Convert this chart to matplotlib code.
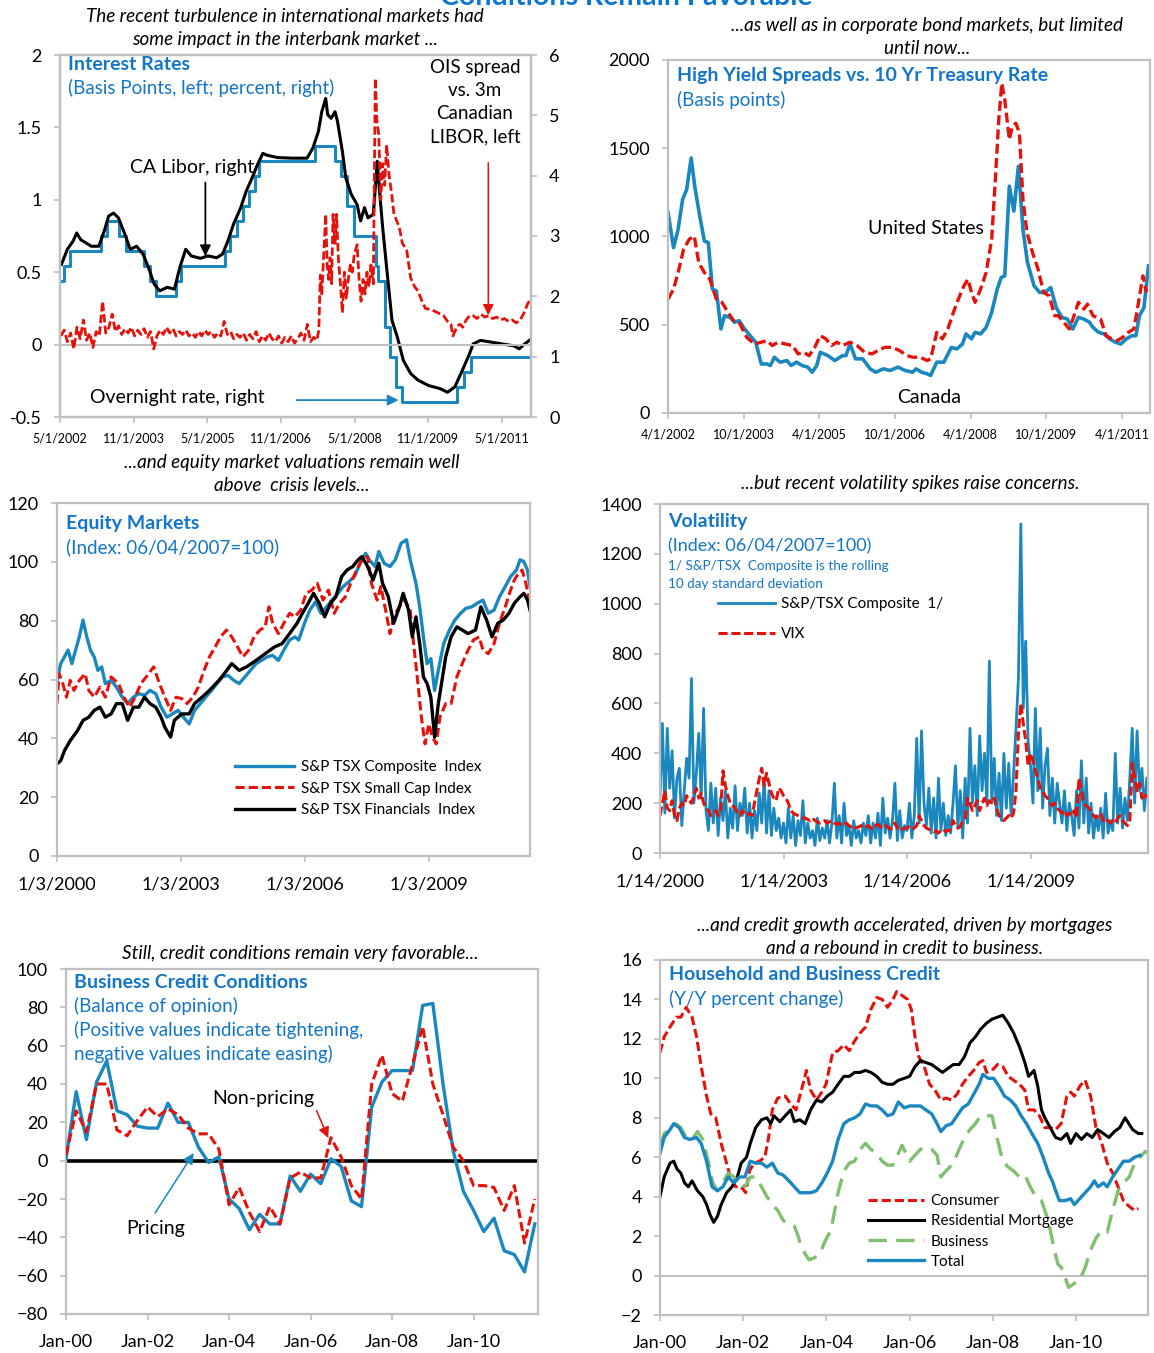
import numpy as np
import pandas as pd
import matplotlib
matplotlib.use("Agg")
from matplotlib import pyplot as plt

plt.rcParams['font.family'] = ['Lato', 'DejaVu Sans']

BLUE = '#1A87BE'
TXTBLUE = '#1275C8'
RED = '#E3120B'
GREEN = '#7FBF6F'
GRAY = '#BFBFBF'

# ---------------- data ----------------
# interest rates (decimal years)
overnight_year = [2002.33, 2002.42, 2002.54, 2003.17, 2003.29, 2003.54, 2003.67, 2004.05, 2004.17, 2004.28,
                  2004.69, 2004.80, 2005.68, 2005.80, 2005.93, 2006.06, 2006.18, 2006.31, 2006.39, 2007.52,
                  2007.92, 2008.06, 2008.17, 2008.31, 2008.77, 2008.80, 2008.94, 2009.05, 2009.17, 2009.30,
                  2010.42, 2010.55, 2010.69, 2011.92]
overnight_pct = [2.25, 2.50, 2.75, 3.00, 3.25, 3.00, 2.75, 2.50, 2.25, 2.00,
                 2.25, 2.50, 2.75, 3.00, 3.25, 3.50, 3.75, 4.00, 4.25, 4.50,
                 4.25, 4.00, 3.50, 3.00, 2.50, 2.25, 1.50, 1.00, 0.50, 0.25,
                 0.50, 0.75, 1.00, 1.00]

libor_year = [2002.36, 2002.48, 2002.60, 2002.67, 2002.75, 2002.97, 2003.12, 2003.23, 2003.32, 2003.42,
              2003.52, 2003.65, 2003.76, 2003.89, 2004.02, 2004.13, 2004.25, 2004.36, 2004.51, 2004.66,
              2004.77, 2004.89, 2005.00, 2005.19, 2005.34, 2005.52, 2005.64, 2005.75, 2005.86, 2006.01,
              2006.12, 2006.24, 2006.35, 2006.46, 2006.54, 2006.76, 2007.06, 2007.36, 2007.48, 2007.59,
              2007.66, 2007.74, 2007.78, 2007.85, 2007.93, 2007.98, 2008.08, 2008.15, 2008.26, 2008.38,
              2008.45, 2008.53, 2008.60, 2008.71, 2008.79, 2008.83, 2008.90, 2008.98, 2009.09, 2009.20,
              2009.32, 2009.47, 2009.62, 2009.84, 2010.07, 2010.22, 2010.37, 2010.52, 2010.67, 2010.74,
              2010.89, 2011.12, 2011.34, 2011.57, 2011.68, 2011.79, 2011.92]
libor_pct = [2.53, 2.78, 2.92, 3.05, 2.94, 2.83, 2.83, 3.08, 3.33, 3.38,
             3.30, 3.03, 2.78, 2.83, 2.70, 2.48, 2.20, 2.09, 2.15, 2.12,
             2.48, 2.78, 2.67, 2.63, 2.67, 2.64, 2.70, 2.92, 3.19, 3.47,
             3.74, 3.96, 4.18, 4.37, 4.34, 4.30, 4.29, 4.29, 4.46, 4.73,
             5.06, 5.28, 5.01, 4.95, 5.06, 4.90, 4.40, 3.96, 3.69, 3.52,
             3.25, 3.47, 3.30, 3.36, 4.24, 3.80, 3.14, 2.48, 1.60, 1.32,
             0.94, 0.72, 0.61, 0.52, 0.47, 0.41, 0.50, 0.77, 1.05, 1.21,
             1.27, 1.24, 1.21, 1.18, 1.13, 1.21, 1.29]

# OIS spread, calm period May-2002 to Jul-2007 (evenly spaced readings)
ois_calm = [0.06, 0.10, 0.02, 0.08, -0.03, 0.12, 0.04, 0.17, 0.03, 0.08,
            -0.02, 0.09, 0.06, 0.30, 0.08, 0.12, 0.21, 0.09, 0.13, 0.07,
            0.11, 0.08, 0.12, 0.06, 0.10, 0.07, 0.11, 0.05, 0.09, -0.03,
            0.06, 0.10, 0.07, 0.12, 0.08, 0.11, 0.06, 0.09, 0.07, 0.10,
            0.06, 0.08, 0.05, 0.09, 0.06, 0.10, 0.07, 0.09, 0.05, 0.08,
            0.06, 0.16, 0.07, 0.09, 0.04, 0.07, 0.05, 0.08, 0.03, 0.07,
            0.04, 0.09, 0.02, 0.06, 0.03, 0.08, 0.04, 0.02, 0.06, 0.01,
            0.05, 0.02, 0.06, 0.01, 0.04, 0.08, 0.03, 0.14, 0.02, 0.05, 0.03]
ois_stress_year = [2007.60, 2007.63, 2007.66, 2007.70, 2007.74, 2007.77, 2007.80, 2007.83, 2007.86, 2007.89,
                   2007.93, 2007.96, 2008.00, 2008.04, 2008.08, 2008.12, 2008.16, 2008.20, 2008.24, 2008.28,
                   2008.32, 2008.38, 2008.42, 2008.46, 2008.50, 2008.54, 2008.58, 2008.62, 2008.66, 2008.71,
                   2008.75, 2008.78, 2008.82, 2008.86, 2008.90, 2008.94, 2008.98, 2009.03, 2009.08, 2009.13,
                   2009.19, 2009.24, 2009.30, 2009.39, 2009.47, 2009.55, 2009.62, 2009.70, 2009.77, 2009.90,
                   2010.02, 2010.14, 2010.22, 2010.29, 2010.33, 2010.37, 2010.42, 2010.48, 2010.53, 2010.60,
                   2010.67, 2010.74, 2010.82, 2010.90, 2010.98, 2011.06, 2011.14, 2011.22, 2011.30, 2011.38,
                   2011.46, 2011.54, 2011.62, 2011.70, 2011.78, 2011.85, 2011.92]
ois_stress = [0.10, 0.48, 0.35, 0.62, 0.90, 0.55, 0.45, 0.60, 0.42, 0.90,
              0.70, 0.90, 0.58, 0.42, 0.22, 0.50, 0.32, 0.45, 0.55, 0.50,
              0.62, 0.69, 0.45, 0.30, 0.45, 0.35, 0.50, 0.40, 0.55, 0.42,
              1.84, 1.55, 1.45, 1.00, 1.25, 1.10, 1.38, 1.17, 1.05, 0.90,
              0.85, 0.81, 0.70, 0.65, 0.46, 0.40, 0.37, 0.30, 0.25, 0.24,
              0.22, 0.20, 0.16, 0.14, 0.06, 0.09, 0.13, 0.14, 0.12, 0.17,
              0.20, 0.20, 0.18, 0.21, 0.19, 0.20, 0.18, 0.19, 0.17, 0.18,
              0.16, 0.17, 0.15, 0.17, 0.22, 0.28, 0.32]

# high yield spreads
can_hy_year = [2002.25, 2002.36, 2002.45, 2002.54, 2002.62, 2002.71, 2002.78, 2002.88, 2002.97, 2003.05,
               2003.13, 2003.21, 2003.30, 2003.37, 2003.48, 2003.57, 2003.66, 2003.77, 2003.88, 2003.99,
               2004.10, 2004.21, 2004.28, 2004.36, 2004.47, 2004.61, 2004.69, 2004.80, 2004.91, 2005.02,
               2005.11, 2005.20, 2005.27, 2005.42, 2005.56, 2005.71, 2005.78, 2005.86, 2005.97, 2006.11,
               2006.26, 2006.37, 2006.52, 2006.66, 2006.81, 2006.95, 2007.10, 2007.17, 2007.28, 2007.39,
               2007.46, 2007.58, 2007.72, 2007.87, 2007.98, 2008.09, 2008.16, 2008.27, 2008.34, 2008.45,
               2008.56, 2008.67, 2008.78, 2008.86, 2008.93, 2009.02, 2009.11, 2009.20, 2009.29, 2009.38,
               2009.51, 2009.62, 2009.73, 2009.84, 2009.95, 2010.06, 2010.17, 2010.28, 2010.39, 2010.50,
               2010.61, 2010.68, 2010.79, 2010.90, 2011.01, 2011.12, 2011.23, 2011.34, 2011.45, 2011.53,
               2011.60, 2011.69, 2011.78]
can_hy = [1136, 937, 1040, 1210, 1266, 1445, 1285, 1116, 975, 965,
          702, 692, 476, 551, 542, 514, 523, 476, 438, 401,
          278, 278, 269, 316, 288, 297, 269, 288, 269, 260,
          231, 269, 344, 325, 297, 325, 325, 391, 307, 307,
          250, 231, 250, 241, 260, 241, 231, 250, 231, 222,
          213, 288, 288, 372, 363, 391, 448, 420, 457, 448,
          485, 570, 702, 768, 777, 1285, 1144, 1398, 1040, 852,
          721, 683, 683, 711, 598, 542, 532, 476, 542, 532,
          514, 485, 457, 448, 420, 401, 391, 420, 438, 438,
          551, 598, 834]
us_hy_year = [2002.25, 2002.36, 2002.45, 2002.56, 2002.67, 2002.77, 2002.86, 2002.97, 2003.08, 2003.21,
              2003.32, 2003.44, 2003.55, 2003.66, 2003.81, 2003.96, 2004.10, 2004.21, 2004.32, 2004.43,
              2004.58, 2004.72, 2004.83, 2004.94, 2005.05, 2005.16, 2005.27, 2005.38, 2005.49, 2005.60,
              2005.71, 2005.86, 2006.00, 2006.15, 2006.30, 2006.41, 2006.55, 2006.70, 2006.84, 2006.99,
              2007.10, 2007.25, 2007.39, 2007.46, 2007.58, 2007.69, 2007.80, 2007.91, 2008.01, 2008.12,
              2008.20, 2008.27, 2008.34, 2008.45, 2008.56, 2008.67, 2008.75, 2008.81, 2008.87, 2008.93,
              2009.02, 2009.08, 2009.15, 2009.22, 2009.29, 2009.37, 2009.48, 2009.59, 2009.70, 2009.81,
              2009.92, 2009.99, 2010.10, 2010.21, 2010.28, 2010.39, 2010.50, 2010.57, 2010.68, 2010.83,
              2010.94, 2011.05, 2011.16, 2011.27, 2011.38, 2011.49, 2011.56, 2011.67, 2011.74]
us_hy = [645, 702, 796, 928, 984, 1003, 852, 796, 758, 645,
         627, 570, 523, 514, 429, 391, 401, 410, 382, 401,
         391, 382, 335, 344, 325, 372, 438, 420, 382, 401,
         382, 401, 382, 344, 335, 354, 372, 372, 354, 325,
         316, 316, 297, 307, 457, 420, 476, 570, 645, 721,
         758, 683, 627, 702, 796, 984, 1360, 1661, 1868, 1774,
         1549, 1624, 1642, 1586, 1210, 1022, 909, 815, 683, 664,
         551, 551, 514, 476, 532, 627, 589, 617, 551, 532,
         438, 420, 410, 429, 457, 476, 589, 777, 683]

# equity indices (06/04/2007 = 100)
tsx_year = [2000.00, 2000.09, 2000.18, 2000.27, 2000.36, 2000.45, 2000.54, 2000.63, 2000.72, 2000.81,
            2000.90, 2000.99, 2001.08, 2001.17, 2001.31, 2001.44, 2001.58, 2001.71, 2001.85, 2001.98,
            2002.12, 2002.25, 2002.39, 2002.52, 2002.66, 2002.79, 2002.93, 2003.06, 2003.20, 2003.33,
            2003.47, 2003.60, 2003.74, 2003.87, 2004.01, 2004.14, 2004.28, 2004.41, 2004.55, 2004.68,
            2004.82, 2004.95, 2005.09, 2005.22, 2005.36, 2005.49, 2005.63, 2005.76, 2005.85, 2005.99,
            2006.12, 2006.26, 2006.39, 2006.53, 2006.66, 2006.80, 2006.93, 2007.07, 2007.20, 2007.34,
            2007.47, 2007.56, 2007.70, 2007.79, 2007.92, 2008.06, 2008.19, 2008.33, 2008.46, 2008.55,
            2008.69, 2008.78, 2008.87, 2008.96, 2009.05, 2009.14, 2009.23, 2009.36, 2009.50, 2009.63,
            2009.77, 2009.90, 2010.04, 2010.17, 2010.31, 2010.44, 2010.58, 2010.71, 2010.85, 2010.98,
            2011.12, 2011.21, 2011.30, 2011.39, 2011.45]
tsx_comp = [59.7, 65.4, 67.7, 70.0, 65.4, 70.0, 74.5, 80.2, 74.5, 70.0,
            67.7, 63.1, 64.3, 58.6, 59.7, 57.4, 54.0, 51.8, 54.0, 55.2,
            54.6, 56.3, 55.2, 50.6, 47.2, 48.3, 49.5, 47.2, 44.9, 49.5,
            51.8, 54.0, 56.3, 58.6, 60.9, 61.4, 59.7, 58.6, 60.9, 63.1,
            65.4, 66.5, 67.7, 68.2, 66.5, 70.0, 73.4, 74.5, 73.4, 79.1,
            83.6, 86.4, 82.5, 84.7, 87.0, 89.3, 91.6, 93.3, 95.0, 99.5,
            102.9, 100.7, 98.4, 103.5, 99.5, 98.4, 100.7, 106.3, 107.5, 100.7,
            92.7, 84.7, 74.5, 65.4, 67.1, 56.3, 63.1, 72.2, 76.8, 80.2,
            82.5, 84.2, 84.7, 85.9, 87.0, 82.5, 83.6, 88.1, 91.6, 95.0,
            97.2, 100.7, 100.1, 97.2, 91.6]
small_year = [2000.00, 2000.05, 2000.14, 2000.23, 2000.32, 2000.41, 2000.54, 2000.68, 2000.77, 2000.90,
              2001.04, 2001.17, 2001.31, 2001.49, 2001.62, 2001.76, 2001.89, 2002.03, 2002.16, 2002.34,
              2002.48, 2002.61, 2002.75, 2002.88, 2003.02, 2003.15, 2003.29, 2003.42, 2003.56, 2003.69,
              2003.83, 2003.96, 2004.10, 2004.23, 2004.37, 2004.50, 2004.64, 2004.77, 2004.91, 2005.04,
              2005.13, 2005.22, 2005.36, 2005.49, 2005.63, 2005.76, 2005.90, 2006.03, 2006.17, 2006.30,
              2006.44, 2006.57, 2006.71, 2006.84, 2006.98, 2007.11, 2007.25, 2007.38, 2007.52, 2007.61,
              2007.75, 2007.84, 2007.97, 2008.06, 2008.15, 2008.28, 2008.42, 2008.55, 2008.64, 2008.73,
              2008.82, 2008.91, 2009.00, 2009.09, 2009.18, 2009.27, 2009.41, 2009.54, 2009.68, 2009.81,
              2009.95, 2010.08, 2010.22, 2010.31, 2010.44, 2010.58, 2010.71, 2010.85, 2010.98, 2011.07,
              2011.17, 2011.26, 2011.35, 2011.45]
small_cap = [51.8, 62.0, 58.6, 54.0, 59.7, 56.3, 59.7, 62.0, 56.3, 54.0,
             57.4, 54.0, 60.9, 58.6, 54.0, 50.6, 54.0, 58.6, 60.9, 64.3,
             58.6, 54.0, 49.5, 54.0, 53.5, 51.8, 54.0, 57.4, 63.1, 67.7,
             71.1, 74.5, 76.8, 74.5, 71.1, 67.7, 70.0, 74.5, 76.8, 77.9,
             84.7, 79.1, 75.6, 79.1, 82.5, 81.3, 83.6, 89.3, 90.4, 92.7,
             87.0, 90.4, 82.5, 85.9, 88.1, 92.7, 97.2, 100.7, 101.8, 92.7,
             87.0, 91.6, 82.5, 75.6, 81.3, 84.7, 87.0, 83.6, 71.1, 59.7,
             47.2, 38.1, 44.9, 40.4, 38.1, 47.2, 51.8, 51.8, 60.9, 65.4,
             70.0, 73.4, 74.5, 70.0, 68.8, 72.2, 79.1, 84.7, 90.4, 93.8,
             96.1, 97.2, 92.7, 85.9]
fin_year = [2000.00, 2000.09, 2000.18, 2000.32, 2000.50, 2000.63, 2000.77, 2000.90, 2001.04, 2001.17,
            2001.31, 2001.44, 2001.58, 2001.71, 2001.85, 2001.98, 2002.12, 2002.25, 2002.39, 2002.52,
            2002.61, 2002.75, 2002.84, 2003.02, 2003.20, 2003.33, 2003.51, 2003.69, 2003.92, 2004.05,
            2004.23, 2004.41, 2004.59, 2004.82, 2005.04, 2005.27, 2005.45, 2005.63, 2005.81, 2005.94,
            2006.08, 2006.21, 2006.35, 2006.48, 2006.62, 2006.75, 2006.89, 2007.02, 2007.16, 2007.29,
            2007.38, 2007.52, 2007.65, 2007.79, 2007.88, 2008.02, 2008.15, 2008.29, 2008.38, 2008.51,
            2008.60, 2008.69, 2008.78, 2008.87, 2008.96, 2009.05, 2009.14, 2009.23, 2009.32, 2009.41,
            2009.54, 2009.68, 2009.81, 2009.95, 2010.13, 2010.26, 2010.40, 2010.53, 2010.67, 2010.80,
            2010.94, 2011.07, 2011.21, 2011.30, 2011.39, 2011.45]
financials = [31.3, 32.4, 35.8, 39.2, 42.7, 46.1, 47.2, 49.5, 50.6, 47.2,
              48.3, 51.8, 51.8, 46.1, 50.6, 50.6, 54.0, 51.8, 50.6, 47.2,
              43.8, 40.4, 46.1, 48.3, 48.3, 51.8, 54.0, 56.3, 59.7, 62.0,
              65.4, 63.1, 64.3, 66.5, 68.8, 71.1, 72.2, 75.6, 79.1, 82.5,
              85.9, 89.3, 85.9, 81.3, 85.9, 88.1, 95.0, 97.2, 98.4, 100.7,
              101.8, 98.4, 93.8, 99.5, 92.7, 88.1, 79.1, 84.7, 89.3, 83.6,
              74.5, 81.3, 72.2, 60.9, 58.6, 54.0, 40.4, 51.8, 59.7, 67.7,
              74.5, 77.9, 76.8, 75.6, 76.8, 84.7, 80.2, 74.5, 79.1, 80.2,
              82.5, 85.9, 88.1, 89.3, 87.0, 83.6]

# volatility, readings every three weeks, Jan-2000 to late 2011
tsx_vol = [230, 520, 160, 500, 260, 410, 140, 300, 340, 110, 250, 380, 300, 700, 200, 320, 480,   # 2000
           220, 580, 170, 90, 280, 120, 260, 70, 220, 130, 250, 60, 180, 100, 270, 90, 200,      # 2001
           150, 260, 80, 200, 60, 170, 90, 240, 120, 300, 80, 250, 70, 180, 90, 140, 60,         # 2002
           120, 40, 180, 60, 150, 30, 130, 70, 210, 40, 120, 60, 90, 30, 140, 50, 100,           # 2003
           60, 130, 40, 120, 280, 60, 150, 40, 200, 70, 110, 30, 130, 60, 90, 40, 120,          # 2004
           70, 150, 40, 120, 60, 160, 30, 220, 80, 140, 60, 130, 280, 50, 170, 60, 110,         # 2005
           90, 200, 60, 150, 460, 120, 490, 200, 110, 260, 80, 220, 60, 300, 90, 200, 70,       # 2006
           150, 80, 200, 350, 100, 250, 60, 300, 120, 500, 200, 350, 150, 470, 250, 400, 200,   # 2007
           770, 200, 380, 150, 320, 130, 400, 180, 360, 150, 320, 500, 700, 1320, 580, 850, 450,  # 2008
           350, 200, 580, 250, 500, 180, 350, 420, 150, 300, 120, 280, 200, 120, 250, 90, 200,  # 2009
           150, 70, 250, 100, 370, 120, 300, 80, 200, 60, 150, 90, 180, 60, 240, 80, 130,       # 2010
           90, 400, 120, 260, 100, 220, 130, 300, 500, 200, 490, 250, 340, 170, 300]            # 2011
vix = [150, 200, 250, 180, 170, 210, 150, 130, 180, 200, 190, 230, 210, 200, 230, 260, 220,   # 2000
       240, 200, 180, 170, 150, 160, 170, 150, 160, 330, 270, 230, 200, 190, 180, 160, 150,   # 2001
       170, 160, 150, 160, 150, 200, 250, 300, 340, 270, 320, 280, 240, 220, 210, 260, 250,   # 2002
       230, 220, 200, 170, 160, 155, 150, 145, 140, 140, 135, 130, 140, 130, 125, 120, 125,   # 2003
       130, 120, 125, 130, 120, 115, 120, 110, 115, 120, 110, 105, 110, 100, 105, 110, 100,   # 2004
       105, 110, 100, 95, 110, 115, 105, 100, 110, 105, 95, 110, 120, 100, 105, 95, 100,      # 2005
       100, 105, 95, 100, 110, 150, 130, 110, 100, 95, 90, 85, 90, 80, 90, 95, 85,            # 2006
       90, 95, 130, 110, 100, 105, 130, 140, 220, 200, 170, 190, 210, 170, 200, 220, 190,     # 2007
       210, 200, 220, 180, 150, 140, 130, 140, 150, 140, 160, 250, 480, 600, 520, 450, 350,   # 2008
       400, 370, 330, 300, 260, 250, 230, 220, 200, 190, 200, 180, 170, 160, 170, 150, 160,   # 2009
       150, 170, 140, 300, 250, 200, 190, 180, 170, 150, 140, 150, 160, 130, 140, 130, 120,   # 2010
       130, 120, 140, 150, 130, 120, 110, 130, 360, 300, 250, 280, 220, 240, 220]             # 2011

# business credit conditions, quarterly from 2000Q1
pricing = [1, 36, 11, 41, 52, 26, 24, 18, 17, 17,
           30, 20, 20, 7, -1, 2, -20, -25, -36, -28,
           -33, -33, -8, -16, -7, -12, 1, -3, -21, -24,
           28, 41, 47, 47, 47, 81, 82, 40, 5, -16,
           -26, -37, -30, -47, -49, -58, -33]
non_pricing = [3, 26, 15, 40, 40, 16, 13, 21, 28, 23,
               27, 24, 17, 14, 14, 6, -23, -14, -27, -37,
               -24, -33, -9, -6, -9, -9, 12, 2, -13, -20,
               40, 55, 35, 31, 50, 70, 40, 24, 7, 0,
               -13, -13, -14, -26, -13, -43, -20]

# household and business credit (y/y %)
cons_year = [2000.00, 2000.10, 2000.24, 2000.39, 2000.50, 2000.63, 2000.77, 2000.88, 2000.99, 2001.12,
             2001.22, 2001.34, 2001.47, 2001.60, 2001.69, 2001.82, 2001.95, 2002.06, 2002.15, 2002.26,
             2002.39, 2002.52, 2002.61, 2002.70, 2002.83, 2003.01, 2003.14, 2003.27, 2003.40, 2003.52,
             2003.62, 2003.76, 2003.89, 2003.99, 2004.15, 2004.28, 2004.42, 2004.55, 2004.68, 2004.81,
             2004.94, 2005.07, 2005.21, 2005.34, 2005.47, 2005.60, 2005.69, 2005.82, 2005.95, 2006.04,
             2006.13, 2006.22, 2006.35, 2006.48, 2006.61, 2006.75, 2006.88, 2007.01, 2007.14, 2007.27,
             2007.41, 2007.54, 2007.67, 2007.76, 2007.85, 2007.98, 2008.11, 2008.24, 2008.37, 2008.50,
             2008.64, 2008.77, 2008.86, 2008.99, 2009.12, 2009.25, 2009.38, 2009.51, 2009.64, 2009.78,
             2009.87, 2009.96, 2010.09, 2010.22, 2010.35, 2010.48, 2010.62, 2010.75, 2010.88, 2011.01,
             2011.14, 2011.28, 2011.41, 2011.50]
consumer = [11.3, 12.1, 12.6, 13.1, 13.1, 13.6, 13.1, 12.1, 10.6, 9.1,
            8.2, 8.0, 6.7, 5.7, 5.0, 4.5, 4.5, 4.2, 5.3, 5.7,
            5.8, 6.0, 7.0, 8.4, 9.0, 9.1, 8.7, 8.4, 9.4, 10.4,
            9.4, 8.9, 9.3, 9.7, 11.3, 11.4, 11.7, 11.4, 11.9, 12.3,
            12.6, 13.5, 14.1, 14.0, 13.6, 14.0, 14.4, 14.2, 14.0, 13.5,
            12.1, 11.1, 10.6, 9.7, 9.4, 8.9, 9.0, 8.9, 9.2, 9.7,
            10.1, 10.4, 10.8, 10.9, 10.3, 10.4, 10.7, 10.6, 10.1, 9.9,
            9.7, 9.4, 8.4, 8.4, 8.1, 7.5, 7.5, 7.4, 7.7, 9.1,
            9.3, 9.1, 9.6, 9.9, 9.1, 7.5, 6.7, 5.7, 5.2, 4.5,
            3.8, 3.5, 3.3, 3.4]
mort_year = [2000.00, 2000.10, 2000.24, 2000.33, 2000.41, 2000.50, 2000.59, 2000.68, 2000.77, 2000.90,
             2001.03, 2001.12, 2001.20, 2001.29, 2001.38, 2001.47, 2001.60, 2001.73, 2001.86, 2001.95,
             2002.08, 2002.17, 2002.30, 2002.44, 2002.57, 2002.66, 2002.74, 2002.88, 2003.01, 2003.14,
             2003.23, 2003.36, 2003.49, 2003.62, 2003.76, 2003.89, 2004.02, 2004.15, 2004.28, 2004.42,
             2004.55, 2004.68, 2004.81, 2004.94, 2005.07, 2005.21, 2005.34, 2005.47, 2005.60, 2005.73,
             2005.87, 2006.00, 2006.13, 2006.26, 2006.39, 2006.53, 2006.66, 2006.79, 2006.92, 2007.05,
             2007.19, 2007.32, 2007.45, 2007.58, 2007.71, 2007.85, 2007.98, 2008.11, 2008.24, 2008.37,
             2008.50, 2008.64, 2008.77, 2008.86, 2008.99, 2009.08, 2009.17, 2009.25, 2009.38, 2009.51,
             2009.64, 2009.78, 2009.87, 2010.00, 2010.13, 2010.26, 2010.39, 2010.52, 2010.66, 2010.79,
             2010.92, 2011.05, 2011.18, 2011.27, 2011.36, 2011.50, 2011.58]
mortgage = [4.0, 5.0, 5.7, 5.8, 5.4, 5.2, 4.7, 4.5, 4.8, 4.3,
            4.0, 3.6, 3.1, 2.7, 3.0, 3.6, 4.2, 4.5, 5.0, 5.7,
            6.0, 6.7, 7.5, 7.9, 8.0, 7.7, 8.1, 7.8, 8.1, 8.4,
            7.8, 7.9, 7.7, 8.4, 8.9, 8.8, 9.1, 9.3, 9.7, 10.1,
            10.1, 10.3, 10.3, 10.4, 10.3, 10.1, 9.8, 9.7, 9.7, 9.9,
            10.0, 10.1, 10.6, 10.9, 10.8, 10.7, 10.5, 10.3, 10.5, 10.7,
            10.7, 11.1, 11.8, 12.1, 12.5, 12.8, 13.0, 13.1, 13.2, 12.8,
            12.3, 11.6, 10.8, 10.1, 10.4, 9.6, 8.4, 8.0, 7.5, 7.0,
            6.9, 7.2, 6.7, 7.2, 6.9, 7.2, 7.0, 7.4, 7.2, 7.0,
            7.3, 7.5, 8.0, 7.7, 7.4, 7.2, 7.2]
bus_year = [2000.00, 2000.10, 2000.24, 2000.37, 2000.50, 2000.63, 2000.77, 2000.90, 2001.03, 2001.16,
            2001.27, 2001.38, 2001.51, 2001.64, 2001.78, 2001.91, 2002.04, 2002.17, 2002.30, 2002.44,
            2002.57, 2002.70, 2002.83, 2002.96, 2003.10, 2003.23, 2003.32, 2003.40, 2003.49, 2003.58,
            2003.71, 2003.84, 2003.98, 2004.11, 2004.20, 2004.28, 2004.42, 2004.55, 2004.68, 2004.81,
            2004.94, 2005.07, 2005.21, 2005.34, 2005.47, 2005.60, 2005.73, 2005.82, 2005.91, 2006.00,
            2006.13, 2006.26, 2006.39, 2006.53, 2006.66, 2006.75, 2006.83, 2006.92, 2007.05, 2007.19,
            2007.32, 2007.45, 2007.58, 2007.71, 2007.85, 2007.98, 2008.11, 2008.24, 2008.37, 2008.50,
            2008.64, 2008.77, 2008.90, 2009.03, 2009.17, 2009.30, 2009.38, 2009.47, 2009.56, 2009.65,
            2009.74, 2009.82, 2009.96, 2010.09, 2010.22, 2010.35, 2010.48, 2010.62, 2010.75, 2010.88,
            2011.01, 2011.14, 2011.28, 2011.41, 2011.54, 2011.67, 2011.73]
business = [6.5, 7.2, 7.4, 7.7, 7.5, 7.0, 6.9, 7.3, 6.9, 5.8,
            4.7, 4.3, 4.7, 5.2, 5.0, 4.7, 4.5, 5.0, 5.0, 4.5,
            4.0, 3.6, 3.3, 2.8, 2.6, 2.5, 2.0, 1.4, 1.1, 0.8,
            0.9, 1.1, 1.8, 2.3, 3.3, 4.2, 5.3, 5.7, 5.8, 6.4,
            6.7, 6.4, 6.2, 5.8, 5.6, 5.6, 6.2, 6.6, 6.2, 5.8,
            6.1, 6.4, 6.5, 6.4, 6.1, 5.0, 5.2, 5.4, 5.7, 6.4,
            7.0, 7.4, 7.7, 8.1, 8.1, 8.1, 6.9, 5.8, 5.5, 5.3,
            5.0, 5.1, 4.5, 4.0, 3.8, 3.0, 2.3, 1.4, 0.6, 0.4,
            -0.1, -0.6, -0.4, -0.2, 0.4, 1.3, 1.9, 2.3, 2.2, 3.3,
            4.3, 4.7, 5.0, 5.7, 6.0, 6.3, 6.2]
total_year = [2000.00, 2000.10, 2000.24, 2000.33, 2000.46, 2000.59, 2000.72, 2000.88, 2000.99, 2001.12,
              2001.25, 2001.38, 2001.51, 2001.64, 2001.78, 2001.91, 2002.04, 2002.17, 2002.30, 2002.44,
              2002.57, 2002.70, 2002.83, 2002.96, 2003.10, 2003.23, 2003.36, 2003.49, 2003.62, 2003.76,
              2003.89, 2004.02, 2004.15, 2004.28, 2004.42, 2004.55, 2004.68, 2004.81, 2004.94, 2005.07,
              2005.21, 2005.34, 2005.47, 2005.60, 2005.73, 2005.87, 2006.00, 2006.13, 2006.26, 2006.39,
              2006.53, 2006.66, 2006.75, 2006.88, 2007.01, 2007.14, 2007.27, 2007.41, 2007.54, 2007.67,
              2007.76, 2007.89, 2008.02, 2008.15, 2008.28, 2008.42, 2008.55, 2008.68, 2008.81, 2008.94,
              2009.08, 2009.21, 2009.34, 2009.43, 2009.51, 2009.60, 2009.74, 2009.87, 2009.96, 2010.09,
              2010.22, 2010.35, 2010.44, 2010.53, 2010.66, 2010.75, 2010.88, 2011.01, 2011.14, 2011.28,
              2011.41, 2011.54]
total = [6.2, 7.0, 7.4, 7.7, 7.5, 7.0, 6.9, 7.0, 6.7, 5.8,
         4.5, 4.3, 4.5, 5.0, 4.7, 5.0, 5.0, 5.8, 5.7, 5.7,
         5.5, 5.7, 5.2, 5.1, 4.8, 4.5, 4.2, 4.2, 4.2, 4.3,
         4.7, 5.2, 5.8, 6.9, 7.7, 7.9, 8.0, 8.2, 8.7, 8.6,
         8.6, 8.4, 8.1, 8.2, 8.8, 8.5, 8.6, 8.6, 8.6, 8.4,
         8.2, 7.7, 7.3, 7.6, 7.7, 8.1, 8.5, 8.7, 9.2, 9.7,
         10.2, 10.0, 10.0, 9.6, 9.1, 8.9, 8.6, 8.1, 7.7, 7.2,
         6.7, 6.0, 5.2, 4.8, 4.3, 3.8, 3.8, 3.9, 3.6, 3.9,
         4.2, 4.5, 4.8, 4.5, 4.7, 4.5, 5.0, 5.4, 5.8, 5.8,
         6.0, 6.1]

# ---------------- figure ----------------
W, H = 1154, 1353
fig = plt.figure(figsize=(W / 100, H / 100), dpi=100)

HEAD = 14
SUB = 13.5
LAB = 14


def panel(l, t, r, b):
    return fig.add_axes([l / W, 1 - b / H, (r - l) / W, (b - t) / H])


def style(ax, xsize=13, ysize=13, xpad=10.5):
    for s in ax.spines.values():
        s.set_color(GRAY)
        s.set_linewidth(1.6)
    ax.tick_params(axis='both', colors=GRAY, length=4, width=1.2)
    ax.tick_params(axis='x', labelcolor='black', labelsize=xsize, pad=xpad)
    ax.tick_params(axis='y', labelcolor='black', labelsize=ysize, pad=9)


def note(x, y, s):
    fig.text(x / W, 1 - y / H, s, ha='center', va='center', style='italic', fontsize=13.6)


def heading(ax, y1, y2, title, sub):
    ax.text(0.018, y1, title, transform=ax.transAxes, color=TXTBLUE, fontweight='bold',
            fontsize=HEAD, va='center')
    ax.text(0.018, y2, sub, transform=ax.transAxes, color=TXTBLUE, fontsize=SUB, va='center')


fig.text(626 / W, 1 - 5 / H, 'Conditions Remain Favorable', ha='center', va='baseline',
         color='#0A78D1', fontweight='bold', fontsize=20.5)

# --- panel 1: interest rates
ax1 = panel(60, 55, 531, 417)
ax1r = ax1.twinx()
ax1r.step(overnight_year, overnight_pct, where='post', color=BLUE, lw=2.2)
ax1r.plot(libor_year, libor_pct, color='black', lw=2.2)
ois_year = list(np.linspace(2002.35, 2007.56, len(ois_calm))) + ois_stress_year
ax1.plot(ois_year, ois_calm + ois_stress, color=RED, lw=2.0, dashes=(3, 1.2))
ax1.axhline(0, color=GRAY, lw=1.4, zorder=0)
ax1.set_zorder(ax1r.get_zorder() + 1)
ax1.patch.set_visible(False)
ax1.set_ylim(-0.5, 2)
ax1r.set_ylim(0, 6)
ax1.set_xlim(2002.33, 2011.92)
ax1.set_yticks([-0.5, 0, 0.5, 1, 1.5, 2], ['-0.5', '0', '0.5', '1', '1.5', '2'])
ax1r.set_yticks(range(7))
ax1.set_xticks([2002.33, 2003.83, 2005.33, 2006.83, 2008.33, 2009.83, 2011.33],
               ['5/1/2002', '11/1/2003', '5/1/2005', '11/1/2006', '5/1/2008', '11/1/2009', '5/1/2011'])
style(ax1, xsize=9, xpad=7.5)
style(ax1r, xsize=9, xpad=7.5)
heading(ax1, 0.975, 0.909, 'Interest Rates', '(Basis Points, left; percent, right)')
ax1r.text(2010.78, 5.22, 'OIS spread\nvs. 3m\nCanadian\nLIBOR, left', ha='center', va='center',
          fontsize=13.5, linespacing=1.45)
ax1r.text(2005.03, 4.13, 'CA Libor, right', ha='center', va='center', fontsize=LAB)
ax1r.annotate('', xy=(2005.29, 2.62), xytext=(2005.29, 3.93),
              arrowprops=dict(arrowstyle='-|>', color='black', lw=1.3, mutation_scale=16))
ax1r.annotate('', xy=(2011.05, 1.64), xytext=(2011.05, 4.26),
              arrowprops=dict(arrowstyle='-|>', color=RED, lw=1.1, mutation_scale=16))
ax1r.text(2004.72, 0.33, 'Overnight rate, right', ha='center', va='center', fontsize=LAB)
ax1r.annotate('', xy=(2009.28, 0.28), xytext=(2007.09, 0.28),
              arrowprops=dict(arrowstyle='-|>', color=BLUE, lw=1.3, mutation_scale=16))
note(285, 17, 'The recent turbulence in international markets had')
note(285, 40, 'some impact in the interbank market ...')

# --- panel 2: high yield spreads
ax2 = panel(668, 60, 1150, 413)
ax2.plot(can_hy_year, can_hy, color=BLUE, lw=2.6)
ax2.plot(us_hy_year, us_hy, color=RED, lw=2.4, dashes=(3, 1.3))
ax2.set_ylim(0, 2000)
ax2.set_xlim(2002.25, 2011.81)
ax2.set_yticks([0, 500, 1000, 1500, 2000])
ax2.set_xticks([2002.25, 2003.75, 2005.25, 2006.75, 2008.25, 2009.75, 2011.25],
               ['4/1/2002', '10/1/2003', '4/1/2005', '10/1/2006', '4/1/2008', '10/1/2009', '4/1/2011'])
style(ax2, xsize=9, xpad=7.5)
heading(ax2, 0.955, 0.887, 'High Yield Spreads vs. 10 Yr Treasury Rate', '(Basis points)')
ax2.text(0.535, 0.524, 'United States', transform=ax2.transAxes, ha='center', va='center', fontsize=LAB)
ax2.text(0.542, 0.045, 'Canada', transform=ax2.transAxes, ha='center', va='center', fontsize=LAB)
note(927, 25, '...as well as in corporate bond markets, but limited')
note(927, 49, 'until now...')

# --- panel 3: equity markets
ax3 = panel(57, 503, 530, 856)
l_comp, = ax3.plot(tsx_year, tsx_comp, color=BLUE, lw=2.4)
l_small, = ax3.plot(small_year, small_cap, color=RED, lw=2.2, dashes=(3, 1.3))
l_fin, = ax3.plot(fin_year, financials, color='black', lw=2.4)
ax3.set_ylim(0, 120)
ax3.set_xlim(2000.0, 2011.45)
ax3.set_yticks(range(0, 121, 20))
ax3.set_xticks([2000.0, 2003.0, 2006.0, 2009.0], ['1/3/2000', '1/3/2003', '1/3/2006', '1/3/2009'])
style(ax3)
heading(ax3, 0.943, 0.875, 'Equity Markets', '(Index: 06/04/2007=100)')
ax3.legend([l_comp, l_small, l_fin],
           ['S&P TSX Composite  Index', 'S&P TSX Small Cap Index', 'S&P TSX Financials  Index'],
           loc='upper left', bbox_to_anchor=(0.376, 0.272), frameon=False, fontsize=11,
           handlelength=3.9, handletextpad=0.4, labelspacing=0.5, borderpad=0, borderaxespad=0)
note(292, 462, '...and equity market valuations remain well')
note(292, 486, 'above  crisis levels...')

# --- panel 4: volatility
ax4 = panel(660, 504, 1148, 853)
vol_year = np.linspace(2000.04, 2011.85, len(tsx_vol))
l_vol, = ax4.plot(vol_year, tsx_vol, color=BLUE, lw=2.0)
l_vix, = ax4.plot(vol_year, vix, color=RED, lw=2.2, dashes=(3, 1.2))
ax4.set_ylim(0, 1400)
ax4.set_xlim(2000.04, 2011.88)
ax4.set_yticks(range(0, 1401, 200))
ax4.set_xticks([2000.04, 2003.04, 2006.04, 2009.04], ['1/14/2000', '1/14/2003', '1/14/2006', '1/14/2009'])
style(ax4)
ax4.text(0.016, 0.951, 'Volatility', transform=ax4.transAxes, color=TXTBLUE, fontweight='bold',
         fontsize=HEAD, va='center')
ax4.text(0.016, 0.880, '(Index: 06/04/2007=100)', transform=ax4.transAxes, color=TXTBLUE,
         fontsize=13, va='center')
ax4.text(0.016, 0.822, '1/ S&P/TSX  Composite is the rolling', transform=ax4.transAxes, color=TXTBLUE,
         fontsize=9.7, va='center')
ax4.text(0.016, 0.771, '10 day standard deviation', transform=ax4.transAxes, color=TXTBLUE,
         fontsize=9.7, va='center')
ax4.legend([l_vol, l_vix], ['S&P/TSX Composite  1/', 'VIX'], loc='upper left',
           bbox_to_anchor=(0.119, 0.733), frameon=False, fontsize=11, handlelength=3.7,
           handletextpad=0.4, labelspacing=1.05, borderpad=0, borderaxespad=0)
note(910, 484, '...but recent volatility spikes raise concerns.')

# --- panel 5: business credit conditions
ax5 = panel(66, 969, 538, 1314)
q = pd.period_range('2000Q1', periods=len(pricing), freq='Q')
q_year = q.year + (q.quarter - 1) / 4
ax5.axhline(0, color='black', lw=2.6, zorder=1)
ax5.plot(q_year, pricing, color=BLUE, lw=2.4, zorder=3)
ax5.plot(q_year, non_pricing, color=RED, lw=2.2, dashes=(3, 1.3), zorder=4)
ax5.set_ylim(-80, 100)
ax5.set_xlim(2000.0, 2011.58)
ax5.set_yticks(range(-80, 101, 20))
ax5.set_xticks([2000, 2002, 2004, 2006, 2008, 2010], ['Jan-00', 'Jan-02', 'Jan-04', 'Jan-06', 'Jan-08', 'Jan-10'])
style(ax5)
heading(ax5, 0.962, 0.893, 'Business Credit Conditions', '(Balance of opinion)')
ax5.text(0.017, 0.823, '(Positive values indicate tightening,', transform=ax5.transAxes,
         color=TXTBLUE, fontsize=SUB, va='center')
ax5.text(0.017, 0.754, 'negative values indicate easing)', transform=ax5.transAxes,
         color=TXTBLUE, fontsize=SUB, va='center')
ax5.text(2004.83, 32.6, 'Non-pricing', ha='center', va='center', fontsize=LAB)
ax5.annotate('', xy=(2006.46, 10.5), xytext=(2006.12, 27.5),
             arrowprops=dict(arrowstyle='-|>', color=RED, lw=1.1, mutation_scale=16))
ax5.text(2002.2, -35.2, 'Pricing', ha='center', va='center', fontsize=LAB)
ax5.annotate('', xy=(2003.17, 5.2), xytext=(2002.15, -28.5),
             arrowprops=dict(arrowstyle='-|>', color=BLUE, lw=1.1, mutation_scale=16))
note(300, 953, 'Still, credit conditions remain very favorable...')

# --- panel 6: household and business credit
ax6 = panel(660, 960, 1148, 1315)
ax6.axhline(0, color=GRAY, lw=1.4, zorder=0)
l_cons, = ax6.plot(cons_year, consumer, color=RED, lw=2.2, dashes=(3, 1.3))
l_mort, = ax6.plot(mort_year, mortgage, color='black', lw=2.2)
l_bus, = ax6.plot(bus_year, business, color=GREEN, lw=2.4, dashes=(5.5, 2.8))
l_tot, = ax6.plot(total_year, total, color=BLUE, lw=2.4)
ax6.set_ylim(-2, 16)
ax6.set_xlim(2000.0, 2011.73)
ax6.set_yticks(range(-2, 17, 2))
ax6.set_xticks([2000, 2002, 2004, 2006, 2008, 2010], ['Jan-00', 'Jan-02', 'Jan-04', 'Jan-06', 'Jan-08', 'Jan-10'])
style(ax6)
heading(ax6, 0.958, 0.890, 'Household and Business Credit', '(Y/Y percent change)')
ax6.legend([l_cons, l_mort, l_bus, l_tot], ['Consumer', 'Residential Mortgage', 'Business', 'Total'],
           loc='upper left', bbox_to_anchor=(0.426, 0.34), frameon=False, fontsize=11,
           handlelength=3.7, handletextpad=0.4, labelspacing=0.4, borderpad=0, borderaxespad=0)
note(905, 926, '...and credit growth accelerated, driven by mortgages')
note(905, 949, 'and a rebound in credit to business.')

fig.savefig('out.png', dpi=100)
plt.close(fig)
